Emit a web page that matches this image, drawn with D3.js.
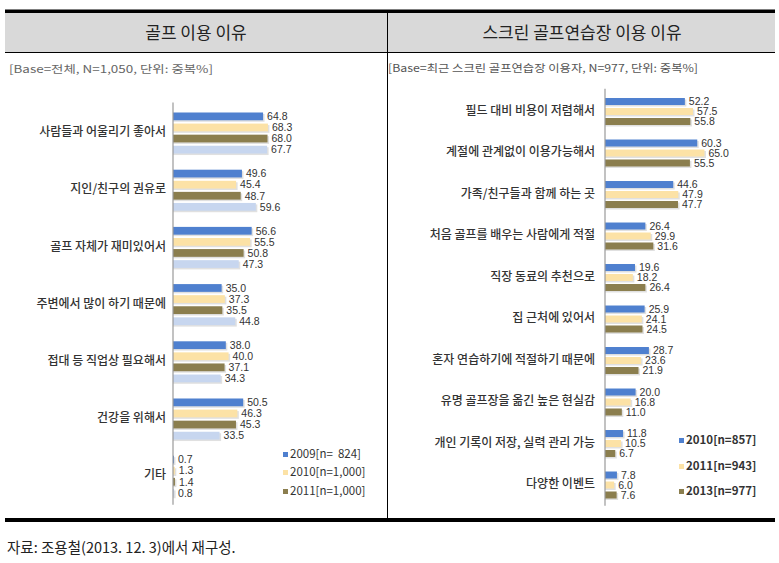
<!DOCTYPE html>
<html><head><meta charset="utf-8">
<script src="https://cdn.jsdelivr.net/npm/d3@7"></script>
<style>
body{margin:0;background:#fff;}
svg text{font-family:"Noto Sans CJK KR","Noto Sans",sans-serif;}
.val{font-family:"Liberation Sans Narrow","Liberation Sans",sans-serif !important;font-size:10.5px;fill:#333;}
</style></head>
<body><svg id="c" width="779" height="563"></svg>
<script>
// ---- Left panel data ----
const leftTitle = "골프 이용 이유";
const leftNote = "[Base=전체, N=1,050, 단위: 중복%]";
const leftCats = ["사람들과 어울리기 좋아서","지인/친구의 권유로","골프 자체가 재미있어서","주변에서 많이 하기 때문에","접대 등 직업상 필요해서","건강을 위해서","기타"];
const leftSeries = ["2009","2010","2011","2013"];
const left2009 = [64.8,49.6,56.6,35.0,38.0,50.5,0.7];
const left2010 = [68.3,45.4,55.5,37.3,40.0,46.3,1.3];
const left2011 = [68.0,48.7,50.8,35.5,37.1,45.3,1.4];
const left2013 = [67.7,59.6,47.3,44.8,34.3,33.5,0.8];
const leftLegend = ["2009[n=  824]","2010[n=1,000]","2011[n=1,000]"];

// ---- Right panel data ----
const rightTitle = "스크린 골프연습장 이용 이유";
const rightNote = "[Base=최근 스크린 골프연습장 이용자, N=977, 단위: 중복%]";
const rightCats = ["필드 대비 비용이 저렴해서","계절에 관계없이 이용가능해서","가족/친구들과 함께 하는 곳","처음 골프를 배우는 사람에게 적절","직장 동료의 추천으로","집 근처에 있어서","혼자 연습하기에 적절하기 때문에","유명 골프장을 옮긴 높은 현실감","개인 기록이 저장, 실력 관리 가능","다양한 이벤트"];
const rightSeries = ["2010","2011","2013"];
const right2010 = [52.2,60.3,44.6,26.4,19.6,25.9,28.7,20.0,11.8,7.8];
const right2011 = [57.5,65.0,47.9,29.9,18.2,24.1,23.6,16.8,10.5,6.0];
const right2013 = [55.8,55.5,47.7,31.6,26.4,24.5,21.9,11.0,6.7,7.6];
const rightLegend = ["2010[n=857]","2011[n=943]","2013[n=977]"];

const footer = "자료: 조용철(2013. 12. 3)에서 재구성.";

const colors = {"2009":"#4f80cf","2010":"#fce2a6","2011":"#8b7e4e","2013":"#c7d6ef"};
const rightColors = {"2010":"#4f80cf","2011":"#fce2a6","2013":"#8b7e4e"};

const svg = d3.select("#c");

// frame
svg.append("rect").attr("x",5).attr("y",12.5).attr("width",770).attr("height",40).attr("fill","#d9d9d9");
svg.append("rect").attr("x",5).attr("y",9.5).attr("width",770).attr("height",3.5).attr("fill","#000");
svg.append("rect").attr("x",5).attr("y",518).attr("width",770).attr("height",4).attr("fill","#000");
svg.append("line").attr("x1",5).attr("x2",775).attr("y1",52.5).attr("y2",52.5).attr("stroke","#000").attr("stroke-width",1);
svg.append("line").attr("x1",387.5).attr("x2",387.5).attr("y1",12).attr("y2",518).attr("stroke","#000").attr("stroke-width",1);

svg.append("text").attr("x",196).attr("y",39).attr("text-anchor","middle").attr("font-size",17).attr("fill","#222").text(leftTitle);
svg.append("text").attr("x",582).attr("y",39).attr("text-anchor","middle").attr("font-size",17).attr("fill","#222").text(rightTitle);
svg.append("text").attr("x",9).attr("y",73).attr("font-size",10.5).attr("fill","#666")
  .attr("textLength",204).attr("lengthAdjust","spacingAndGlyphs").text(leftNote);
svg.append("text").attr("x",388).attr("y",72).attr("font-size",10.5).attr("fill","#555")
  .attr("textLength",310).attr("lengthAdjust","spacingAndGlyphs").text(rightNote);
svg.append("text").attr("x",7).attr("y",553).attr("font-size",14.5).attr("fill","#222").text(footer);

function panel(opts){
  const {cats, series, values, colorMap, x0, x1, y0, y1, pad, labelX, legend, legendX, legendY, legendBold} = opts;
  const x = d3.scaleLinear().domain([0,100]).range([x0,x1]);
  const y = d3.scaleBand().domain(cats).range([y0,y1]).paddingInner(pad).paddingOuter(pad/2);
  const yi = d3.scaleBand().domain(series).range([0,y.bandwidth()]).paddingInner(0.3);
  const g = svg.append("g");
  const data = [];
  cats.forEach((c,i)=>series.forEach((s,j)=>data.push({c,s,v:values[j][i]})));
  // shadow
  g.selectAll("rect.sh").data(data).join("rect")
    .attr("x",x(0)).attr("y",d=>y(d.c)+yi(d.s)+1.5)
    .attr("width",d=>x(d.v)-x(0)+1.5).attr("height",yi.bandwidth())
    .attr("fill","#bbb").attr("opacity",0.45);
  g.selectAll("rect.b").data(data).join("rect")
    .attr("x",x(0)).attr("y",d=>y(d.c)+yi(d.s))
    .attr("width",d=>x(d.v)-x(0)).attr("height",yi.bandwidth())
    .attr("fill",d=>colorMap[d.s]);
  g.selectAll("text.val").data(data).join("text").attr("class","val")
    .attr("x",d=>x(d.v)+4).attr("y",d=>y(d.c)+yi(d.s)+yi.bandwidth()/2+1)
    .attr("dominant-baseline","middle").text(d=>d.v.toFixed(1));
  // axis line
  g.append("line").attr("x1",x(0)).attr("x2",x(0)).attr("y1",y0-2).attr("y2",y1).attr("stroke","#999").attr("stroke-width",1.2);
  // category labels
  g.selectAll("text.cat").data(cats).join("text")
    .attr("x",labelX).attr("y",d=>y(d)+y.bandwidth()/2).attr("text-anchor","end")
    .attr("dominant-baseline","middle").attr("font-size",12).attr("font-weight",500).attr("fill","#333").text(d=>d);
  // legend
  legend.forEach((t,i)=>{
    const s = series[i];
    g.append("rect").attr("x",legendX).attr("y",legendY[i]-3).attr("width",5).attr("height",5).attr("fill",colorMap[s]);
    g.append("text").attr("x",legendX+7).attr("y",legendY[i]).attr("dominant-baseline","middle")
      .attr("font-size",11.5).attr("font-weight",legendBold?600:400).attr("fill","#333")
      .style("white-space","pre").text(t);
  });
}

panel({cats:leftCats, series:leftSeries, values:[left2009,left2010,left2011,left2013], colorMap:colors,
  x0:173, x1:312, y0:104.4, y1:504.8, pad:0.283, labelX:166,
  legend:leftLegend, legendX:283, legendY:[455,473,492], legendBold:false});
panel({cats:rightCats, series:rightSeries, values:[right2010,right2011,right2013], colorMap:rightColors,
  x0:605, x1:758, y0:90.75, y1:505.75, pad:0.35, labelX:595,
  legend:rightLegend, legendX:679, legendY:[441,467,492], legendBold:true});
</script></body></html>
